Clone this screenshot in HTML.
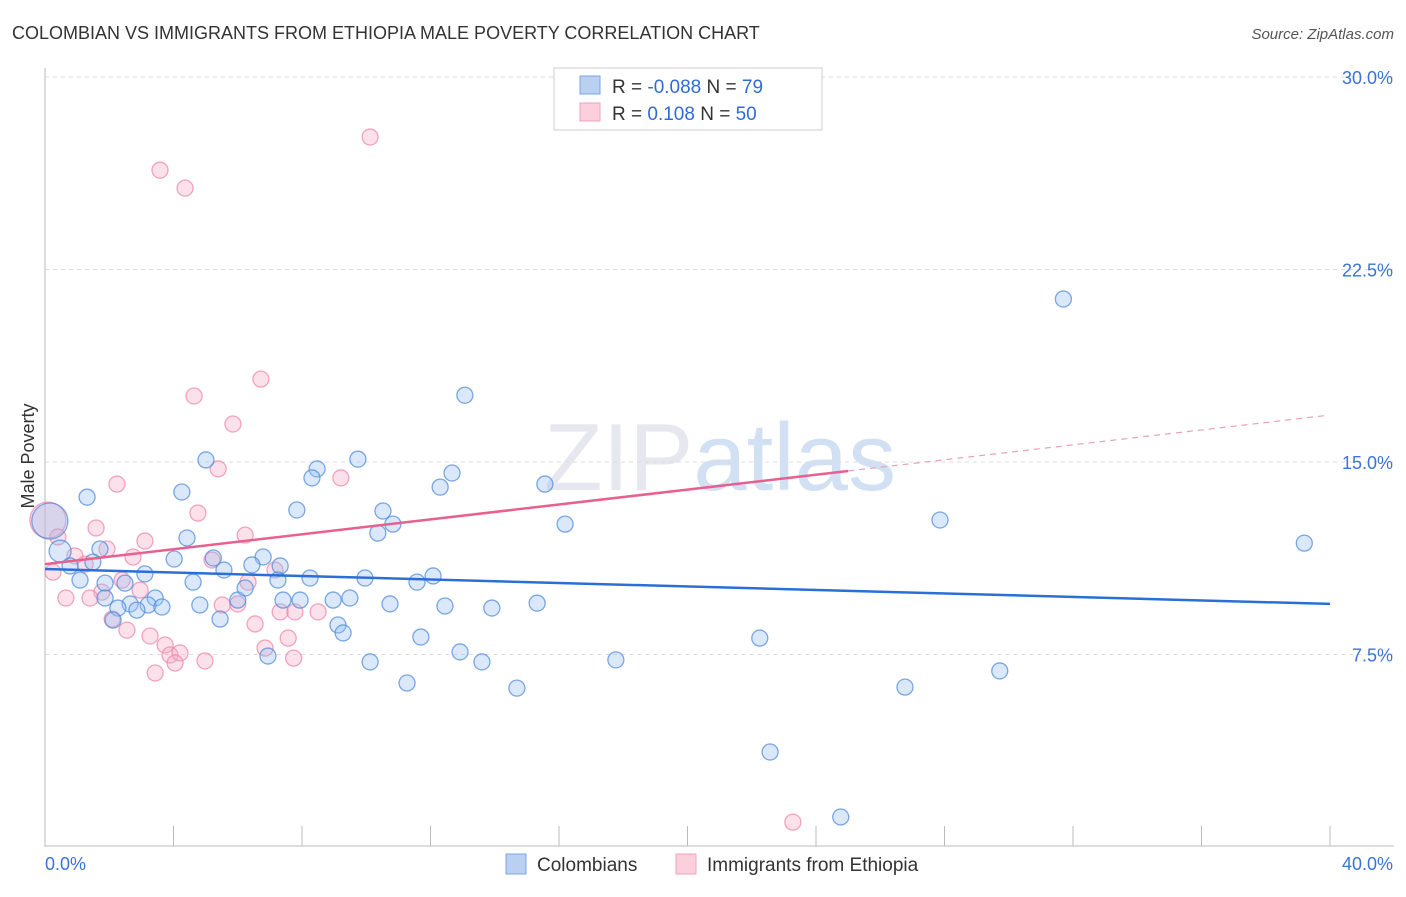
<!DOCTYPE html>
<html><head><meta charset="utf-8"><style>
body{margin:0;background:#fff;font-family:"Liberation Sans",sans-serif}
svg text{font-family:"Liberation Sans",sans-serif}
</style></head><body>
<svg id="chart" width="1406" height="892" xmlns="http://www.w3.org/2000/svg">
<text x="12" y="39" font-size="18" fill="#333">COLOMBIAN VS IMMIGRANTS FROM ETHIOPIA MALE POVERTY CORRELATION CHART</text>
<text x="1394" y="39" font-size="15" fill="#555" text-anchor="end" font-style="italic">Source: ZipAtlas.com</text>
<text x="720" y="490" font-size="96" text-anchor="middle" fill="#ccd" opacity="0.45" font-family="Liberation Serif">ZIP<tspan fill="#9bbbe6" font-family="Liberation Sans">atlas</tspan></text>
<g id="grid"></g><g id="axes"></g><g id="pts"></g><g id="trend"></g>
<text transform="translate(34,456) rotate(-90)" font-size="18" fill="#333" text-anchor="middle">Male Poverty</text>
<g>
<rect x="554" y="68" width="268" height="62" fill="#fff" stroke="#ccc"/>
<rect x="580" y="76" width="20" height="18" fill="#b9d0f3" stroke="#7aa5e6"/>
<rect x="580" y="103" width="20" height="18" fill="#fbd0dc" stroke="#f0a0b8"/>
<text x="612" y="93" font-size="19" fill="#333">R = <tspan fill="#2f6bd6">-0.088</tspan>   N = <tspan fill="#2f6bd6">79</tspan></text>
<text x="612" y="120" font-size="19" fill="#333">R =   <tspan fill="#2f6bd6">0.108</tspan>   N = <tspan fill="#2f6bd6">50</tspan></text>
</g>
<g>
<rect x="506" y="854" width="20" height="20" fill="#b9d0f3" stroke="#7aa5e6"/>
<text x="537" y="871" font-size="19" fill="#333">Colombians</text>
<rect x="676" y="854" width="20" height="20" fill="#fbd0dc" stroke="#f0a0b8"/>
<text x="707" y="871" font-size="19" fill="#333">Immigrants from Ethiopia</text>
</g>
</svg>
<script>
const yTicks=[7.5,15,22.5,30];
const yTickLabels=["7.5%","15.0%","22.5%","30.0%"];
const xTickVals=[0,4,8,12,16,20,24,28,32,36,40];
const blueX=[31.7,13.07,39.2,27.86,5.01,9.74,8.47,8.31,12.67,12.3,15.56,1.31,4.26,7.84,10.52,10.83,10.36,16.19,4.42,0.47,1.71,1.49,5.24,4.02,6.79,6.44,7.32,5.57,3.11,0.78,1.09,1.87,2.49,4.61,7.25,8.25,9.96,11.58,12.08,1.87,2.65,3.43,3.21,3.64,4.82,6.0,6.23,7.41,7.94,8.97,9.49,10.74,12.45,13.91,15.32,2.27,2.86,2.12,5.45,9.12,9.28,11.7,12.92,13.6,10.12,6.94,17.77,22.25,29.72,26.77,14.69,11.27,22.57,24.77,0.15];
const blueY=[21.35,17.6,11.84,12.74,15.08,15.11,14.73,14.38,14.57,14.02,14.14,13.63,13.83,13.13,13.09,12.58,12.23,12.58,12.04,11.53,11.61,11.1,11.26,11.22,11.3,10.99,10.95,10.79,10.64,10.95,10.4,10.28,10.28,10.32,10.4,10.48,10.48,10.32,10.56,9.7,9.47,9.7,9.43,9.35,9.43,9.62,10.09,9.62,9.62,9.62,9.7,9.47,9.39,9.31,9.5,9.31,9.23,8.84,8.88,8.65,8.34,8.18,7.6,7.21,7.21,7.44,7.29,8.14,6.86,6.23,6.19,6.39,3.7,1.17,12.7];
const blueR=[8,8,8,8,8,8,8,8,8,8,8,8,8,8,8,8,8,8,8,11,8,8,8,8,8,8,8,8,8,8,8,8,8,8,8,8,8,8,8,8,8,8,8,8,8,8,8,8,8,8,8,8,8,8,8,8,8,8,8,8,8,8,8,8,8,8,8,8,8,8,8,8,8,8,18];
const pinkX=[10.12,3.58,4.36,6.72,4.64,5.85,5.39,9.21,2.24,4.76,1.59,0.09,6.23,3.11,0.4,0.93,1.93,2.74,5.2,1.25,0.25,2.4,6.32,7.16,2.96,1.77,0.65,1.4,5.52,6.0,7.32,7.78,8.5,2.09,2.55,6.54,7.57,3.27,3.74,3.89,4.2,4.05,4.98,6.85,7.74,3.43,23.28];
const pinkY=[27.66,26.37,25.67,18.23,17.57,16.48,14.73,14.38,14.14,13.01,12.43,12.74,12.15,11.92,12.08,11.34,11.61,11.3,11.18,11.02,10.71,10.4,10.32,10.79,10.01,9.93,9.7,9.7,9.43,9.47,9.16,9.16,9.16,8.88,8.45,8.69,8.14,8.22,7.87,7.48,7.56,7.17,7.25,7.75,7.36,6.78,0.97];
const pinkR=[8,8,8,8,8,8,8,8,8,8,8,18,8,8,8,8,8,8,8,8,8,8,8,8,8,8,8,8,8,8,8,8,8,8,8,8,8,8,8,8,8,8,8,8,8,8,8];
const blueTrend=[10.83,9.47];
const pinkTrend=[11.02,16.83];
const pinkSolidEnd=25;
const NS="http://www.w3.org/2000/svg";
const X0=45,X1=1330,Y0=847,PXY=192.5/7.5;
const sx=v=>X0+(v/40)*(X1-X0);
const sy=v=>Y0-v*PXY;
function mk(tag,attrs,parent){const e=document.createElementNS(NS,tag);for(const k in attrs)e.setAttribute(k,attrs[k]);parent.appendChild(e);return e;}
const grid=document.getElementById('grid'),axes=document.getElementById('axes'),pts=document.getElementById('pts'),trend=document.getElementById('trend');
yTicks.forEach((t,i)=>{
 const l=mk('line',{x1:X0,x2:1394,y1:sy(t),y2:sy(t),stroke:'#ddd','stroke-dasharray':'4,4'},grid);
 
 
 const tx=mk('text',{x:1393,y:sy(t)+7,'font-size':18,fill:'#3b73d6','text-anchor':'end'},axes);
 tx.textContent=yTickLabels[i];
 
 
});
const ax=mk('line',{x1:X0,x2:X0,y1:68,y2:847,stroke:'#bbb'},axes);


const bx=mk('line',{x1:X0,x2:1394,y1:846,y2:846,stroke:'#bbb'},axes);


xTickVals.forEach(v=>{
 const t=mk('line',{x1:sx(v),x2:sx(v),y1:826,y2:846,stroke:'#bbb'},axes);
 
 
});
[["0.0%",45,'start'],["40.0%",1393,'end']].forEach(a=>{
 const t=mk('text',{x:a[1],y:870,'font-size':18,fill:'#3b73d6','text-anchor':a[2]},axes);t.textContent=a[0];
 
 
});
pinkX.forEach((v,i)=>{
 const c=mk('circle',{cx:sx(v),cy:sy(pinkY[i]),r:pinkR[i],fill:'rgba(246,170,195,0.35)',stroke:'rgba(236,130,165,0.7)','stroke-width':1.3},pts);
 
 
});
blueX.forEach((v,i)=>{
 const c=mk('circle',{cx:sx(v),cy:sy(blueY[i]),r:blueR[i],fill:'rgba(150,190,240,0.35)',stroke:'rgba(80,140,220,0.75)','stroke-width':1.3},pts);
 
 
});
const bl=mk('line',{x1:sx(0),y1:sy(blueTrend[0]),x2:sx(40),y2:sy(blueTrend[1]),stroke:'#2a6fd6','stroke-width':2.5},trend);


const pm=pinkTrend[0]+(pinkTrend[1]-pinkTrend[0])*pinkSolidEnd/40;
const pl=mk('line',{x1:sx(0),y1:sy(pinkTrend[0]),x2:sx(pinkSolidEnd),y2:sy(pm),stroke:'#e8608e','stroke-width':2.5},trend);


const pd=mk('line',{x1:sx(pinkSolidEnd),y1:sy(pm),x2:sx(39.85),y2:sy(pinkTrend[0]+(pinkTrend[1]-pinkTrend[0])*39.85/40),stroke:'#e8a0b8','stroke-width':1.2,'stroke-dasharray':'6,5'},trend);


</script>
</body></html>
